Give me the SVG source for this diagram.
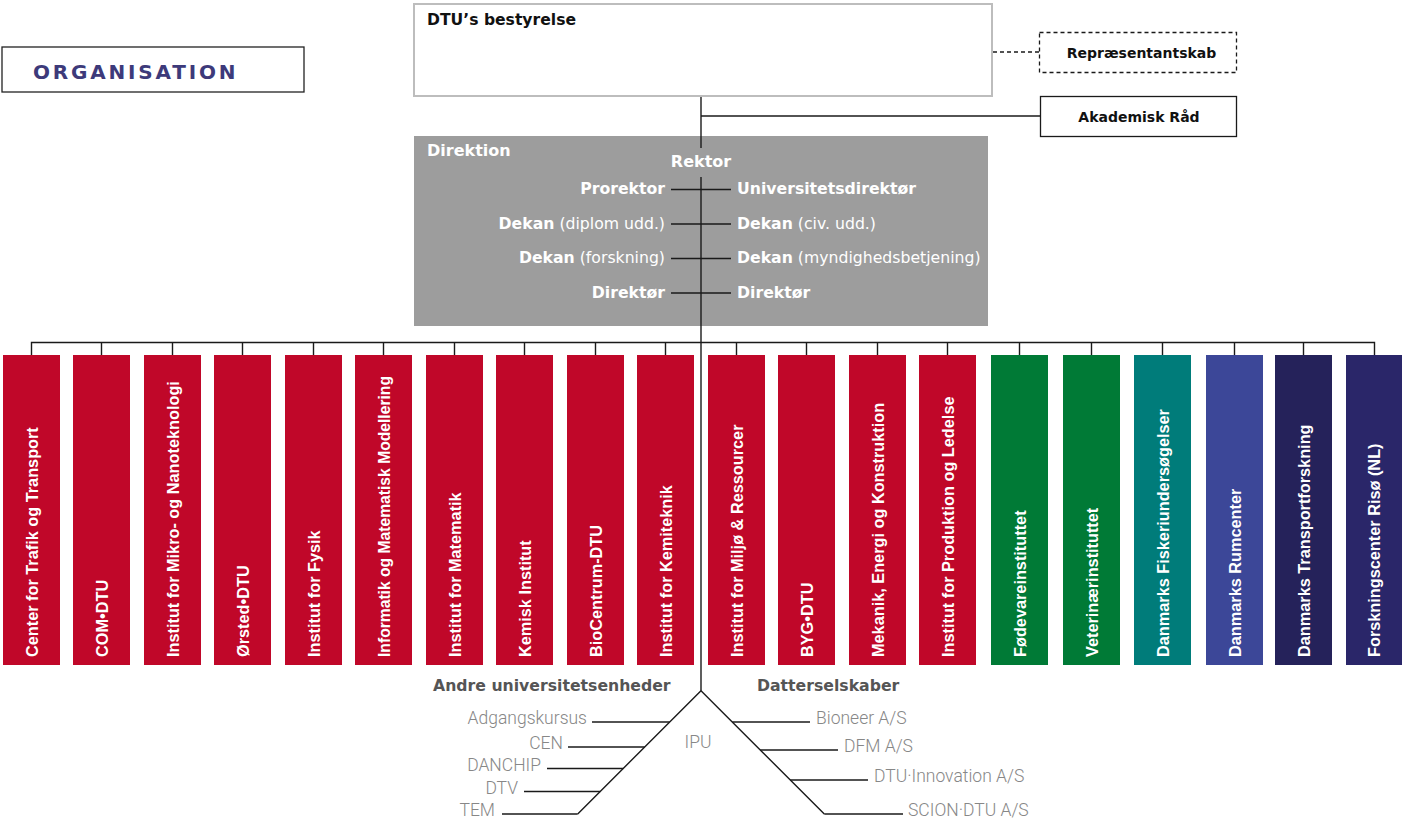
<svg xmlns="http://www.w3.org/2000/svg" width="1402" height="823" viewBox="0 0 1402 823">
<style>
.b{font-family:"DejaVu Sans",sans-serif;font-weight:bold}
.r{font-family:"DejaVu Sans",sans-serif;font-weight:normal}
.dk{font-size:15.7px;fill:#fff}
.col{font-family:"Liberation Sans",Arial,sans-serif;font-weight:bold;font-size:16.3px;fill:#fff}
.sub{font-family:Roboto,"Liberation Sans",sans-serif;font-weight:300;font-size:17.5px;fill:#878787}
.hd{font-size:15.7px;fill:#555}
.ln{stroke:#1a1a1a;stroke-width:1.4;fill:none}
.red{fill:#c00729}
</style>
<rect width="1402" height="823" fill="#fff"/>
<g id="title">
<rect x="2" y="47" width="302" height="45" fill="#fff" stroke="#222" stroke-width="1.3"/>
<text x="33" y="79" class="b" font-size="20" letter-spacing="2.8" fill="#3d3a7a">ORGANISATION</text>
</g>
<g id="connectors">
<line class="ln" x1="701" y1="97" x2="701" y2="136"/>
<line class="ln" x1="701" y1="116" x2="1040" y2="116"/>
<line x1="993" y1="52" x2="1039" y2="52" stroke="#1a1a1a" stroke-width="1.3" stroke-dasharray="4,3"/>
<path class="ln" stroke="#444" stroke-width="1.6" d="M31.5,355V342.5H1374.5V355M101.5,342.5V355M172.5,342.5V355M242.5,342.5V355M313.5,342.5V355M383.5,342.5V355M454.5,342.5V355M524.5,342.5V355M595.5,342.5V355M665.5,342.5V355M736.5,342.5V355M806.5,342.5V355M877.5,342.5V355M947.5,342.5V355M1019.5,342.5V355M1091.5,342.5V355M1162.5,342.5V355M1234.5,342.5V355M1303.5,342.5V355"/>
</g>
<g id="bestyrelse">
<rect x="414" y="4" width="578" height="92" fill="#fff" stroke="#bdbdbd" stroke-width="2"/>
<text x="427" y="25" class="b" font-size="15.6" fill="#111">DTU’s bestyrelse</text>
</g>
<g id="repraesentantskab">
<rect x="1039.5" y="32.5" width="197" height="40" fill="#fff" stroke="#1a1a1a" stroke-width="1.3" stroke-dasharray="4,3"/>
<text x="1141.5" y="58" class="b" font-size="14" fill="#111" text-anchor="middle">Repræsentantskab</text>
</g>
<g id="akademisk">
<rect x="1040.5" y="96.5" width="196" height="40" fill="#fff" stroke="#1a1a1a" stroke-width="1.3"/>
<text x="1139" y="122" class="b" font-size="14" fill="#111" text-anchor="middle">Akademisk Råd</text>
</g>
<g id="direktion">
<rect x="414" y="136" width="574" height="190" fill="#9d9d9d"/>
<text x="427" y="156" class="b" font-size="16" fill="#fff">Direktion</text>
<text x="701" y="167" class="b" font-size="16" fill="#fff" text-anchor="middle">Rektor</text>
<g class="ln">
<line x1="701" y1="136" x2="701" y2="148"/>
<line x1="701" y1="177" x2="701" y2="326"/>
<line x1="671" y1="189.5" x2="731" y2="189.5"/>
<line x1="671" y1="224" x2="731" y2="224"/>
<line x1="671" y1="258.5" x2="731" y2="258.5"/>
<line x1="671" y1="293" x2="731" y2="293"/>
</g>
<text x="665" y="194" class="b dk" text-anchor="end">Prorektor</text>
<text x="737" y="194" class="b dk">Universitetsdirektør</text>
<text x="665" y="228.5" class="dk b" text-anchor="end">Dekan<tspan class="r"> (diplom udd.)</tspan></text>
<text x="737" y="228.5" class="dk b">Dekan<tspan class="r"> (civ. udd.)</tspan></text>
<text x="665" y="263" class="dk b" text-anchor="end">Dekan<tspan class="r"> (forskning)</tspan></text>
<text x="737" y="263" class="dk b">Dekan<tspan class="r"> (myndighedsbetjening)</tspan></text>
<text x="665" y="297.5" class="b dk" text-anchor="end">Direktør</text>
<text x="737" y="297.5" class="b dk">Direktør</text>
</g>
<g id="units">
<g id="u1"><rect class="red" x="3" y="355" width="57" height="310"/><text class="col" transform="translate(37.5,657) rotate(-90)">Center for Trafik og Transport</text></g>
<g id="u2"><rect class="red" x="73" y="355" width="57" height="310"/><text class="col" transform="translate(107.5,657) rotate(-90)">COM•DTU</text></g>
<g id="u3"><rect class="red" x="144" y="355" width="57" height="310"/><text class="col" transform="translate(178.5,657) rotate(-90)">Institut for Mikro- og Nanoteknologi</text></g>
<g id="u4"><rect class="red" x="214" y="355" width="57" height="310"/><text class="col" transform="translate(248.5,657) rotate(-90)">Ørsted•DTU</text></g>
<g id="u5"><rect class="red" x="285" y="355" width="57" height="310"/><text class="col" transform="translate(319.5,657) rotate(-90)">Institut for Fysik</text></g>
<g id="u6"><rect class="red" x="355" y="355" width="57" height="310"/><text class="col" transform="translate(389.5,657) rotate(-90)" textLength="281" lengthAdjust="spacingAndGlyphs">Informatik og Matematisk Modellering</text></g>
<g id="u7"><rect class="red" x="426" y="355" width="57" height="310"/><text class="col" transform="translate(460.5,657) rotate(-90)">Institut for Matematik</text></g>
<g id="u8"><rect class="red" x="496" y="355" width="57" height="310"/><text class="col" transform="translate(530.5,657) rotate(-90)">Kemisk Institut</text></g>
<g id="u9"><rect class="red" x="567" y="355" width="57" height="310"/><text class="col" transform="translate(601.5,657) rotate(-90)">BioCentrum-DTU</text></g>
<g id="u10"><rect class="red" x="637" y="355" width="57" height="310"/><text class="col" transform="translate(671.5,657) rotate(-90)">Institut for Kemiteknik</text></g>
<g id="u11"><rect class="red" x="708" y="355" width="57" height="310"/><text class="col" transform="translate(742.5,657) rotate(-90)">Institut for Miljø &amp; Ressourcer</text></g>
<g id="u12"><rect class="red" x="778" y="355" width="57" height="310"/><text class="col" transform="translate(812.5,657) rotate(-90)">BYG•DTU</text></g>
<g id="u13"><rect class="red" x="849" y="355" width="57" height="310"/><text class="col" transform="translate(883.5,657) rotate(-90)">Mekanik, Energi og Konstruktion</text></g>
<g id="u14"><rect class="red" x="919" y="355" width="57" height="310"/><text class="col" transform="translate(953.5,657) rotate(-90)">Institut for Produktion og Ledelse</text></g>
<g id="u15"><rect fill="#007a36" x="991" y="355" width="57" height="310"/><text class="col" transform="translate(1025.5,657) rotate(-90)">Fødevareinstituttet</text></g>
<g id="u16"><rect fill="#007a36" x="1063" y="355" width="57" height="310"/><text class="col" transform="translate(1097.5,657) rotate(-90)">Veterinærinstituttet</text></g>
<g id="u17"><rect fill="#007c7a" x="1134" y="355" width="57" height="310"/><text class="col" transform="translate(1168.5,657) rotate(-90)">Danmarks Fiskeriundersøgelser</text></g>
<g id="u18"><rect fill="#3c4798" x="1206" y="355" width="57" height="310"/><text class="col" transform="translate(1240.5,657) rotate(-90)">Danmarks Rumcenter</text></g>
<g id="u19"><rect fill="#25225a" x="1275" y="355" width="57" height="310"/><text class="col" transform="translate(1309.5,657) rotate(-90)">Danmarks Transportforskning</text></g>
<g id="u20"><rect fill="#2a2669" x="1346" y="355" width="56" height="310"/><text class="col" transform="translate(1380,657) rotate(-90)">Forskningscenter Risø (NL)</text></g>
</g>
<g id="tree">
<g class="ln">
<line x1="701" y1="326" x2="701" y2="690.7"/>
<polyline points="577.7,814 701,690.7 824.3,814"/>
<line x1="592" y1="722" x2="669.7" y2="722"/>
<line x1="568" y1="747" x2="644.7" y2="747"/>
<line x1="547" y1="768.5" x2="623.2" y2="768.5"/>
<line x1="524" y1="791.5" x2="600.2" y2="791.5"/>
<line x1="502" y1="814" x2="577.7" y2="814"/>
<line x1="732.3" y1="722" x2="810" y2="722"/>
<line x1="760.3" y1="750" x2="838" y2="750"/>
<line x1="790.3" y1="780" x2="868" y2="780"/>
<line x1="824.3" y1="814" x2="903" y2="814"/>
</g>
<text x="433" y="691" class="b hd">Andre universitetsenheder</text>
<text x="757" y="691" class="b hd">Datterselskaber</text>
<text x="587" y="724" class="sub" text-anchor="end">Adgangskursus</text>
<text x="563" y="749" class="sub" text-anchor="end">CEN</text>
<text x="541" y="770.5" class="sub" text-anchor="end">DANCHIP</text>
<text x="518" y="793.5" class="sub" text-anchor="end">DTV</text>
<text x="495" y="816" class="sub" text-anchor="end">TEM</text>
<text x="698" y="748" class="sub" text-anchor="middle">IPU</text>
<text x="816" y="724" class="sub">Bioneer A/S</text>
<text x="844" y="752" class="sub">DFM A/S</text>
<text x="874" y="782" class="sub">DTU·Innovation A/S</text>
<text x="908" y="816" class="sub">SCION·DTU A/S</text>
</g>
</svg>
